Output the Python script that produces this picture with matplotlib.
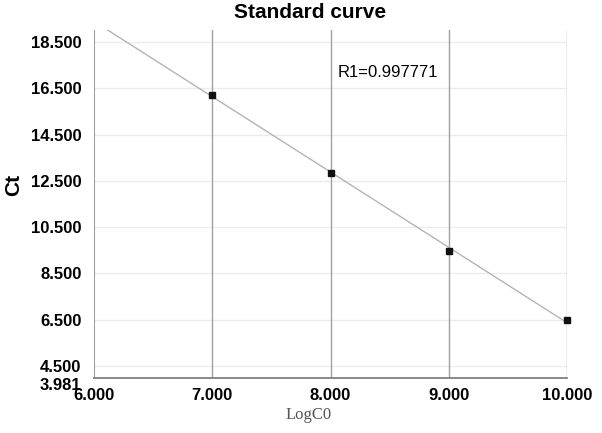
import numpy as np
import matplotlib
matplotlib.use("Agg")
import matplotlib.pyplot as plt
from matplotlib.transforms import ScaledTranslation

log_c0 = [7.0, 8.0, 9.0, 10.0]
ct = [16.22, 12.85, 9.45, 6.50]
x_ticks = [6.0, 7.0, 8.0, 9.0, 10.0]
y_ticks = [3.981, 4.5, 6.5, 8.5, 10.5, 12.5, 14.5, 16.5, 18.5]
r_text = "R1=0.997771"

plt.rcParams['font.family'] = ['Liberation Sans', 'DejaVu Sans']
W, H = 602, 433
fig = plt.figure(figsize=(W/100, H/100), dpi=100)
ax = fig.add_axes([94/W, 1-378/H, (567-94)/W, (378-30)/H])

ax.set_xlim(6.0, 10.0)
ax.set_ylim(3.981, 19.02)

for y in y_ticks[1:]:
    ax.axhline(y, color='#ececec', lw=1.0, zorder=0)
for x in x_ticks[1:]:
    ax.axvline(x, color='#a0a0a0', lw=1.0, zorder=1)

k, b = np.polyfit(log_c0, ct, 1)
xs = np.array([6.0, 10.0])
ax.plot(xs, k*xs + b, color='#b4b4b4', lw=1.0, zorder=2)
ax.plot(log_c0, ct, 's', color='#111111', ms=4, zorder=3, clip_on=False)

ax.set_xticks(x_ticks)
ax.set_xticklabels([f"{v:.3f}" for v in x_ticks], fontsize=12, fontweight='bold')
ax.set_yticks(y_ticks)
ax.set_yticklabels([f"{v:.3f}" for v in y_ticks], fontsize=12, fontweight='bold')
ax.tick_params(length=0)
ax.tick_params(axis='x', pad=7)
ax.tick_params(axis='y', pad=9)

# the lowest y label sits a little below the axis line
lab = ax.get_yticklabels()[0]
lab.set_transform(lab.get_transform() + ScaledTranslation(0, -6/100, fig.dpi_scale_trans))

for s in ['top', 'right']:
    ax.spines[s].set_visible(False)
ax.spines['left'].set_color('#a0a0a0')
ax.spines['bottom'].set_color('#808080')
ax.spines['bottom'].set_linewidth(1.3)

fig.text(310/W, 1-12/H, "Standard curve", fontsize=15, fontweight='bold', ha='center', va='center')
fig.text(14/W, 1-185/H, "Ct", fontsize=15, fontweight='bold', rotation=90, ha='center', va='center')
fig.text(309/W, 1-415/H, "LogC0", fontsize=12, family=['Liberation Serif'], color='#555555', ha='center', va='center')
ax.text(8.06, 17.2, r_text, fontsize=12, va='center', ha='left')

fig.savefig("out.png", dpi=100)
